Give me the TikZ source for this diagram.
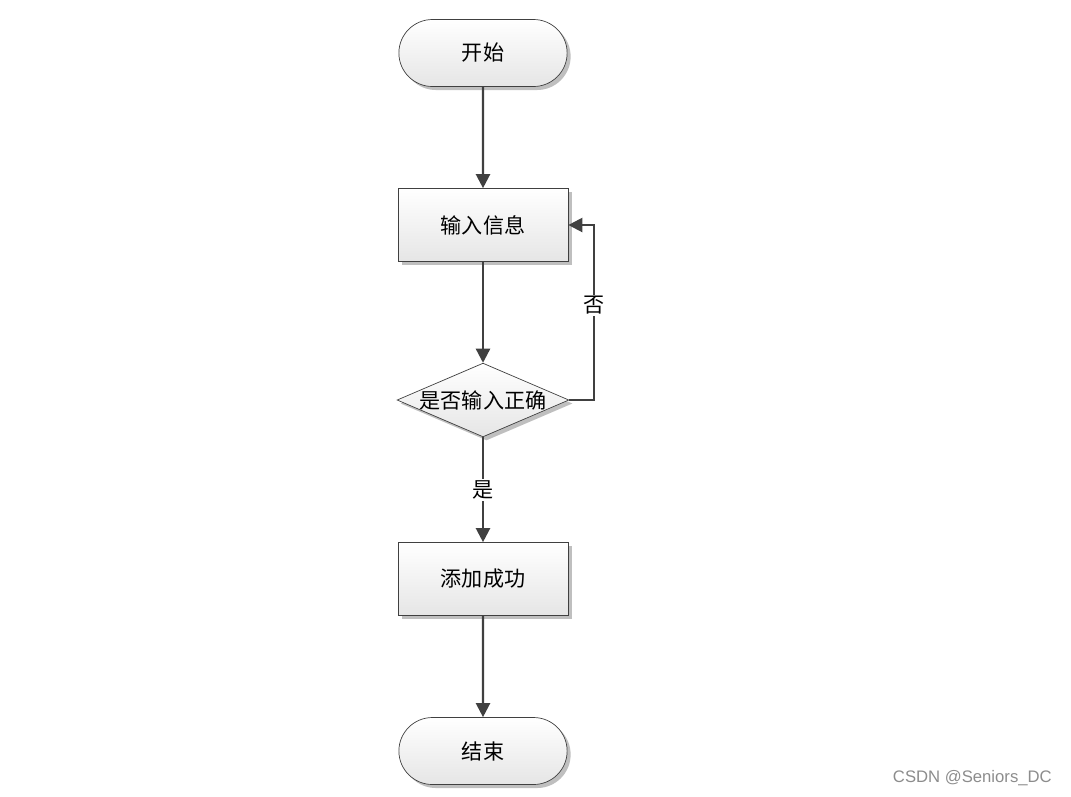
\documentclass[tikz,border=0pt]{standalone}
\usepackage{fontspec}
\newfontfamily\cjk{Noto Sans CJK SC}
\newfontfamily\marksans{Liberation Sans}
\usepackage{tikz}
\usetikzlibrary{shapes.geometric,shapes.misc,arrows.meta,shadows}
\definecolor{linegray}{HTML}{404040}

\begin{document}
\begin{tikzpicture}[%
	x=0.02cm, y=-0.02cm,
	every node/.style = {align=center, font=\cjk\fontsize{12pt}{14pt}\selectfont},
	box/.style = {draw=black!75, thin, top color=white, bottom color=black!10,
		drop shadow={shadow xshift=2pt, shadow yshift=-2pt, opacity=.25, fill=black}},
	terminal/.style={box, rounded rectangle, minimum width=3.6cm, minimum height=1.34cm},
	process/.style={box, rectangle, minimum width=3.4cm, minimum height=1.46cm},
	decision/.style={box, diamond, aspect=2.33, inner sep=0pt, minimum width=3.4cm, minimum height=1.46cm},
	edgelabel/.style={fill=white, inner sep=1pt},
	flow/.style={draw=linegray, line width=1.3pt, -{Triangle[length=8pt,width=8pt]}}
	]
  \useasboundingbox (0,0) rectangle (1071,796);
  \node [terminal] (start) at (483,53) {开始};
  \node [process] (input) at (483,225) {输入信息};
  \node [decision] (check) at (483,400) {是否输入正确};
  \node [process] (added) at (483,579) {添加成功};
  \node [terminal] (stop) at (483,751) {结束};
  \coordinate (loop) at (594,400);

  \draw [flow] (start) -- (input);
  \draw [flow] (input) -- (check);
  \draw [flow] (check) -- node [edgelabel] {是} (added);
  \draw [flow] (check.east) -- (loop) |- node [edgelabel, pos=.27] {否} (input.east);
  \draw [flow] (added) -- (stop);

  \node [font=\marksans\fontsize{9.5pt}{11pt}\selectfont, text=black!45, anchor=east] (mark) at (1058,778) {CSDN @Seniors\_DC};
\end{tikzpicture}
\end{document}
